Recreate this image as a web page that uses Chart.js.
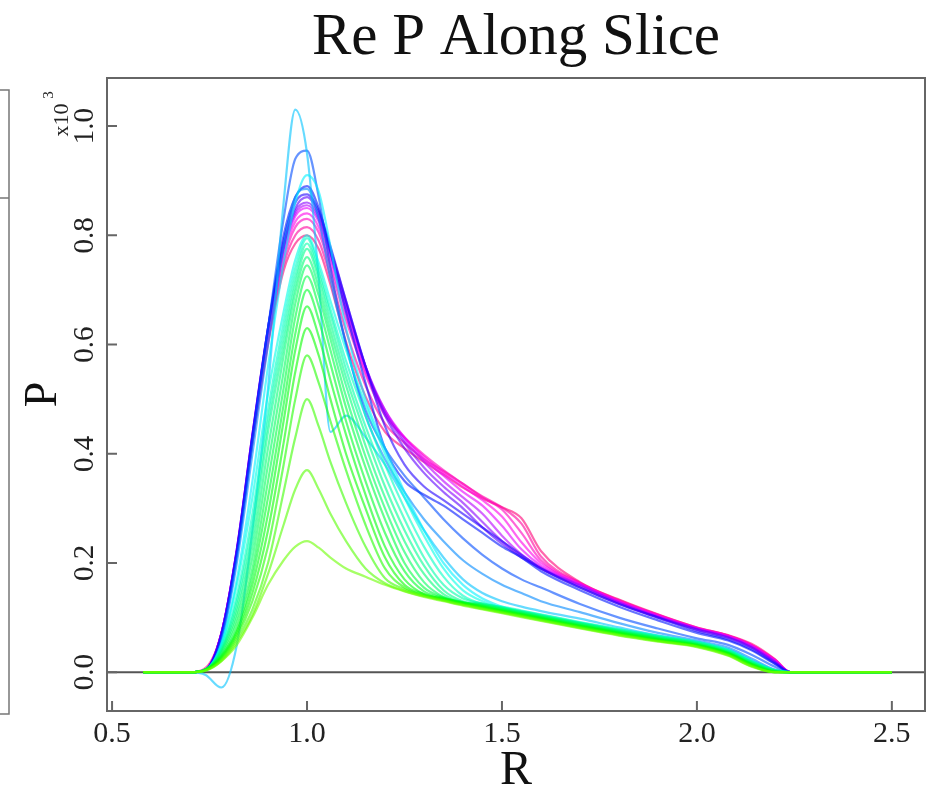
<!DOCTYPE html>
<html>
<head>
<meta charset="utf-8">
<script src="https://cdn.jsdelivr.net/npm/chart.js@4.4.1/dist/chart.umd.min.js"></script>
<style>
  html, body { margin: 0; padding: 0; background: #fff; }
  #wrap { width: 933px; height: 793px; }
</style>
</head>
<body>
<div id="wrap"><canvas id="c" width="933" height="793"></canvas></div>
<script>
// R positions along the slice (shared by every profile)
const R = [0.58, 0.70, 0.74, 0.78, 0.82, 0.86, 0.90, 0.94, 0.97, 1.00, 1.03, 1.06, 1.10,
           1.15, 1.20, 1.25, 1.30, 1.35, 1.40, 1.45, 1.50, 1.55, 1.60, 1.70, 1.80, 1.90,
           2.00, 2.08, 2.14, 2.20, 2.24, 2.30, 2.50];

const xTicks = [0.5, 1.0, 1.5, 2.0, 2.5];
const yTicks = [0.0, 0.2, 0.4, 0.6, 0.8, 1.0];

// P (x10^3), one profile per time step, earliest first
const g01 = [0,0,0.003,0.02,0.05,0.1,0.16,0.205,0.23,0.24,0.228,0.21,0.19, 0.175,0.16,0.148,0.138,0.13,0.122,0.115,0.108,0.101,0.094,0.08,0.067,0.056,0.046,0.03,0.01,0,0,0,0];
const g02 = [0,0,0.003,0.02,0.055,0.105,0.18,0.27,0.335,0.37,0.335,0.29,0.24, 0.19,0.163,0.149,0.139,0.131,0.123,0.116,0.109,0.102,0.095,0.081,0.068,0.057,0.047,0.031,0.011,0,0,0,0];
const g03 = [0,0,0.004,0.022,0.06,0.115,0.2,0.33,0.43,0.5,0.45,0.385,0.31, 0.23,0.172,0.152,0.14,0.132,0.124,0.117,0.11,0.103,0.096,0.082,0.069,0.058,0.048,0.032,0.012,0,0,0,0];
const g04 = [0,0,0.004,0.024,0.065,0.13,0.23,0.38,0.5,0.58,0.53,0.46,0.37, 0.27,0.19,0.155,0.141,0.133,0.125,0.118,0.111,0.104,0.097,0.083,0.07,0.058,0.048,0.033,0.013,0,0,0,0];
const g05 = [0,0,0.004,0.026,0.07,0.145,0.26,0.42,0.55,0.63,0.58,0.5,0.4, 0.3,0.21,0.16,0.143,0.134,0.126,0.119,0.112,0.105,0.098,0.084,0.071,0.059,0.049,0.034,0.014,0,0,0,0];
const g06 = [0,0,0.005,0.028,0.075,0.16,0.29,0.46,0.59,0.67,0.615,0.535,0.435, 0.325,0.23,0.17,0.143,0.135,0.127,0.12,0.113,0.106,0.099,0.085,0.072,0.06,0.05,0.035,0.015,0.001,0,0,0];
const g07 = [0,0,0.005,0.03,0.08,0.175,0.32,0.49,0.62,0.7,0.645,0.565,0.46, 0.35,0.255,0.185,0.148,0.136,0.128,0.121,0.114,0.107,0.1,0.086,0.073,0.061,0.05,0.035,0.015,0.001,0,0,0];
const g08 = [0,0,0.005,0.032,0.09,0.19,0.35,0.52,0.65,0.725,0.67,0.59,0.485, 0.375,0.28,0.2,0.155,0.137,0.127,0.122,0.115,0.108,0.101,0.087,0.074,0.062,0.051,0.036,0.016,0.002,0,0,0];
const g09 = [0,0,0.005,0.035,0.1,0.21,0.38,0.55,0.675,0.745,0.69,0.61,0.505, 0.395,0.3,0.22,0.165,0.138,0.128,0.123,0.116,0.109,0.102,0.088,0.075,0.063,0.052,0.037,0.017,0.002,0,0,0];
const g10 = [0,0,0.005,0.038,0.11,0.23,0.41,0.58,0.695,0.76,0.705,0.625,0.525, 0.415,0.32,0.24,0.18,0.143,0.128,0.124,0.117,0.11,0.103,0.089,0.076,0.064,0.053,0.038,0.018,0.003,0,0,0];
const g11 = [0,0,0.005,0.04,0.12,0.25,0.44,0.6,0.71,0.775,0.72,0.64,0.54, 0.435,0.34,0.26,0.195,0.15,0.13,0.125,0.118,0.111,0.104,0.09,0.077,0.065,0.054,0.039,0.019,0.003,0,0,0];
const g12 = [0,0,0.005,0.042,0.13,0.27,0.46,0.62,0.725,0.785,0.73,0.655,0.555, 0.45,0.36,0.28,0.21,0.16,0.135,0.126,0.119,0.112,0.105,0.091,0.078,0.066,0.055,0.04,0.02,0.004,0,0,0];
const g13 = [0,0,0.005,0.045,0.14,0.29,0.48,0.64,0.74,0.795,0.74,0.665,0.57, 0.47,0.38,0.3,0.23,0.175,0.14,0.125,0.12,0.113,0.106,0.092,0.079,0.067,0.056,0.041,0.021,0.004,0,0,0];
const c01 = [0,0,0.005,0.05,0.16,0.32,0.51,0.66,0.755,0.8,0.75,0.68,0.59, 0.49,0.4,0.32,0.25,0.19,0.15,0.13,0.118,0.108,0.1,0.086,0.073,0.061,0.051,0.037,0.017,0.002,0,0,0];
const c02 = [0,0,0.004,0.05,0.17,0.35,0.56,0.75,0.86,0.91,0.88,0.78,0.63, 0.5,0.41,0.33,0.26,0.2,0.16,0.135,0.12,0.11,0.103,0.09,0.076,0.063,0.053,0.04,0.02,0.003,0,0,0];
const c03 = [0,0,-0.005,-0.028,0.05,0.26,0.52,0.86,1.03,0.95,0.72,0.44,0.47, 0.43,0.38,0.32,0.26,0.21,0.17,0.145,0.13,0.12,0.112,0.098,0.082,0.067,0.055,0.042,0.022,0.004,0,0,0];
const c04 = [0,0,0.004,0.055,0.2,0.4,0.6,0.78,0.87,0.885,0.83,0.72,0.6, 0.47,0.39,0.33,0.28,0.24,0.205,0.18,0.16,0.145,0.13,0.11,0.09,0.072,0.058,0.045,0.025,0.005,0,0,0];
const c05 = [0,0,0.004,0.06,0.21,0.42,0.63,0.83,0.94,0.955,0.87,0.74,0.6, 0.48,0.41,0.36,0.32,0.28,0.245,0.215,0.19,0.17,0.155,0.125,0.1,0.08,0.062,0.05,0.032,0.01,0,0,0];
const c06 = [0,0,0.005,0.065,0.22,0.43,0.63,0.8,0.87,0.89,0.85,0.77,0.66, 0.53,0.41,0.35,0.325,0.305,0.28,0.255,0.23,0.21,0.185,0.15,0.12,0.095,0.072,0.058,0.04,0.015,0,0,0];
const c07 = [0,0,0.005,0.068,0.22,0.43,0.63,0.79,0.86,0.875,0.845,0.78,0.68, 0.56,0.45,0.38,0.34,0.315,0.29,0.265,0.24,0.215,0.19,0.155,0.125,0.1,0.075,0.06,0.042,0.016,0,0,0];
const m01 = [0,0,0.005,0.07,0.225,0.435,0.63,0.78,0.85,0.87,0.84,0.775,0.68, 0.56,0.47,0.41,0.365,0.33,0.3,0.265,0.235,0.21,0.19,0.155,0.125,0.1,0.078,0.063,0.045,0.018,0,0,0];
const m02 = [0,0,0.005,0.07,0.225,0.435,0.63,0.78,0.845,0.86,0.835,0.77,0.675, 0.56,0.475,0.42,0.375,0.34,0.31,0.275,0.24,0.212,0.19,0.158,0.127,0.101,0.079,0.064,0.046,0.019,0,0,0];
const m03 = [0,0,0.005,0.07,0.225,0.435,0.625,0.775,0.84,0.855,0.83,0.765,0.67, 0.56,0.48,0.425,0.385,0.35,0.32,0.29,0.25,0.216,0.192,0.16,0.128,0.102,0.08,0.065,0.047,0.02,0,0,0];
const m04 = [0,0,0.005,0.07,0.222,0.432,0.62,0.77,0.835,0.85,0.825,0.76,0.665, 0.555,0.48,0.43,0.39,0.36,0.33,0.305,0.268,0.225,0.195,0.16,0.129,0.103,0.08,0.066,0.048,0.021,0,0,0];
const m05 = [0,0,0.005,0.07,0.222,0.43,0.615,0.765,0.825,0.84,0.815,0.75,0.655, 0.55,0.475,0.43,0.395,0.365,0.34,0.315,0.285,0.238,0.2,0.162,0.13,0.104,0.081,0.066,0.049,0.022,0,0,0];
const m06 = [0,0,0.005,0.07,0.22,0.425,0.61,0.755,0.815,0.83,0.805,0.74,0.645, 0.545,0.47,0.43,0.398,0.37,0.345,0.32,0.298,0.255,0.205,0.163,0.131,0.105,0.081,0.067,0.05,0.023,0,0,0];
const m07 = [0,0,0.005,0.07,0.22,0.42,0.605,0.745,0.8,0.815,0.79,0.725,0.625, 0.525,0.455,0.42,0.39,0.368,0.345,0.322,0.302,0.272,0.212,0.164,0.132,0.105,0.082,0.067,0.05,0.023,0,0,0];
const m08 = [0,0.0,0.008,0.07,0.22,0.42,0.6,0.735,0.785,0.8,0.775,0.71,0.605, 0.505,0.44,0.41,0.385,0.362,0.338,0.318,0.302,0.282,0.222,0.165,0.133,0.106,0.082,0.068,0.052,0.024,0,0,0];

const profiles = [g01, g02, g03, g04, g05, g06, g07, g08, g09, g10, g11, g12, g13,
                  c01, c02, c03, c04, c05, c06, c07,
                  m01, m02, m03, m04, m05, m06, m07, m08];

// rainbow palette, green -> cyan -> blue -> magenta
const hues = [95, 100, 106, 112, 118, 124, 130, 136, 142, 148, 154, 160, 166,
              174, 183, 194, 208, 222, 235, 248,
              262, 272, 283, 294, 305, 315, 323, 332];

const serif = "'Liberation Serif', 'Times New Roman', serif";

const datasets = profiles.map((p, i) => ({
    data: R.map((r, j) => ({ x: r, y: p[j] })),
    borderColor: `hsla(${hues[i]}, 100%, 50%, 0.6)`,
    borderWidth: 2.2,
    pointRadius: 0,
    fill: false,
    cubicInterpolationMode: 'monotone'
}));

// zero line under the curves, box, inward ticks and rotated y labels on top
const frame = {
    id: 'frame',
    beforeDatasetsDraw(chart) {
        const { ctx, chartArea: a, scales: { y } } = chart;
        const y0 = y.getPixelForValue(0);
        ctx.save();
        ctx.strokeStyle = '#555';
        ctx.lineWidth = 2;
        ctx.beginPath();
        ctx.moveTo(a.left, y0);
        ctx.lineTo(a.right, y0);
        ctx.stroke();
        ctx.restore();
    },
    afterDraw(chart) {
        const { ctx, chartArea: a, scales: { x, y } } = chart;
        ctx.save();
        ctx.strokeStyle = '#666';
        ctx.lineWidth = 2;
        ctx.strokeRect(a.left, a.top, a.right - a.left, a.bottom - a.top);

        ctx.beginPath();
        xTicks.forEach(v => {
            const px = x.getPixelForValue(v);
            ctx.moveTo(px, a.bottom);
            ctx.lineTo(px, a.bottom - 10);
        });
        yTicks.forEach(v => {
            const py = y.getPixelForValue(v);
            ctx.moveTo(a.left, py);
            ctx.lineTo(a.left + 10, py);
        });
        ctx.stroke();

        ctx.fillStyle = '#222';
        ctx.textAlign = 'center';
        ctx.textBaseline = 'middle';
        ctx.font = `29px ${serif}`;
        yTicks.forEach(v => {
            ctx.save();
            ctx.translate(a.left - 22, y.getPixelForValue(v));
            ctx.rotate(-Math.PI / 2);
            ctx.fillText(v.toFixed(1), 0, 0);
            ctx.restore();
        });

        // x10^3 multiplier
        ctx.save();
        ctx.translate(a.left - 45, a.top + 42);
        ctx.rotate(-Math.PI / 2);
        ctx.font = `22px ${serif}`;
        ctx.fillText('x10', 0, 0);
        ctx.font = `15px ${serif}`;
        ctx.fillText('3', 25, -13);
        ctx.restore();

        // edge of the neighbouring panel
        ctx.strokeStyle = '#777';
        ctx.lineWidth = 1.5;
        ctx.beginPath();
        ctx.moveTo(0, 90);
        ctx.lineTo(9, 90);
        ctx.lineTo(9, 714);
        ctx.lineTo(0, 714);
        ctx.moveTo(0, 198);
        ctx.lineTo(9, 198);
        ctx.stroke();
        ctx.restore();
    }
};

new Chart(document.getElementById('c'), {
    type: 'line',
    data: { datasets },
    options: {
        responsive: false,
        animation: false,
        devicePixelRatio: 1,
        layout: { padding: { left: 0, right: 8, top: 0, bottom: 0 } },
        plugins: {
            legend: { display: false },
            tooltip: { enabled: false },
            title: {
                display: true,
                fullSize: false,
                text: 'Re P Along Slice',
                color: '#111',
                font: { family: serif, size: 59, weight: 'normal', lineHeight: 1.2 },
                padding: { top: 3, bottom: 4.2 }
            }
        },
        scales: {
            x: {
                type: 'linear',
                min: 0.487,
                max: 2.585,
                afterBuildTicks(s) { s.ticks = xTicks.map(v => ({ value: v })); },
                afterFit(s) { s.height = 82; },
                grid: { display: false, drawTicks: false },
                border: { display: false },
                ticks: {
                    color: '#222',
                    font: { family: serif, size: 30 },
                    padding: 5,
                    maxRotation: 0,
                    callback: v => v.toFixed(1)
                },
                title: {
                    display: true,
                    text: 'R',
                    color: '#111',
                    font: { family: serif, size: 48, lineHeight: 0.9 },
                    padding: { top: 0, bottom: 0 }
                }
            },
            y: {
                type: 'linear',
                min: -0.071,
                max: 1.088,
                afterBuildTicks(s) { s.ticks = yTicks.map(v => ({ value: v })); },
                afterFit(s) { s.width = 107; },
                grid: { display: false, drawTicks: false },
                border: { display: false },
                ticks: { display: false },
                title: {
                    display: true,
                    text: 'P',
                    color: '#111',
                    font: { family: serif, size: 46, lineHeight: 1 },
                    padding: { top: 21, bottom: 0 }
                }
            }
        }
    },
    plugins: [frame]
});
</script>
</body>
</html>
